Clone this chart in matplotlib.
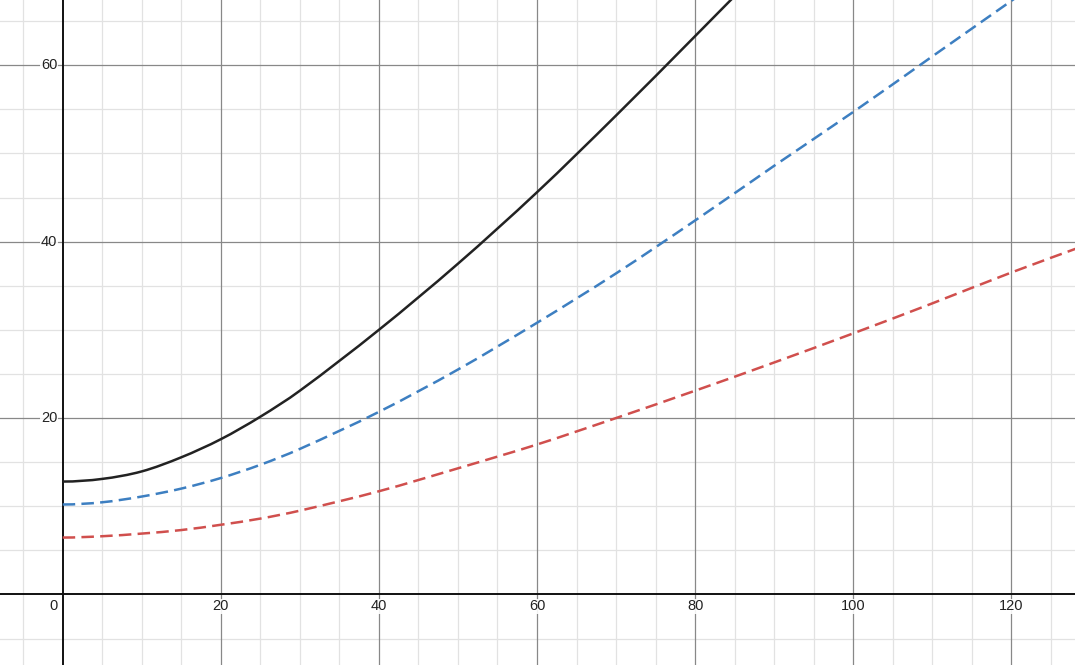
import matplotlib
matplotlib.use("Agg")
import matplotlib.pyplot as plt
from matplotlib.path import Path
from matplotlib.patches import PathPatch
import numpy as np

plt.rcParams['font.family'] = ['Liberation Sans', 'DejaVu Sans']

# Data
x_black = [0, 5, 10, 15, 20, 25, 30, 40, 50, 60, 70, 80, 90]
y_black = [12.8, 13.1, 13.95, 15.55, 17.6, 20.15, 23.1, 30.0, 37.5, 45.6, 54.3, 63.3, 72.4]

x_blue = [0, 5, 10, 15, 20, 25, 30, 40, 50, 60, 70, 80, 90, 100, 110, 120, 130]
y_blue = [10.2, 10.45, 11.1, 12.0, 13.2, 14.7, 16.5, 20.7, 25.5, 30.8, 36.4, 42.4, 48.6, 54.7, 61.0, 67.3, 73.6]

x_red = [0, 5, 10, 15, 20, 25, 30, 40, 50, 60, 70, 80, 90, 100, 110, 120, 130]
y_red = [6.45, 6.6, 6.9, 7.3, 7.9, 8.6, 9.5, 11.7, 14.3, 17.0, 20.0, 23.1, 26.3, 29.6, 33.0, 36.5, 39.8]

x_ticks = [20, 40, 60, 80, 100, 120]
y_ticks = [20, 40, 60]

xmin, xmax = -7.93, 128.06
ymin, ymax = -8.0, 67.4


def smooth_path(xs, ys):
    """Cubic Hermite (Bezier) curve through the given points."""
    x = np.asarray(xs, float)
    y = np.asarray(ys, float)
    n = len(x)
    m = np.zeros(n)
    for i in range(n):
        if i == 0:
            m[i] = 0.0  # flat at the vertex
        elif i == n - 1:
            m[i] = (y[i] - y[i - 1]) / (x[i] - x[i - 1])
        else:
            m[i] = (y[i + 1] - y[i - 1]) / (x[i + 1] - x[i - 1])
    verts = [(x[0], y[0])]
    codes = [Path.MOVETO]
    for i in range(n - 1):
        h = x[i + 1] - x[i]
        verts += [(x[i] + h / 3, y[i] + m[i] * h / 3),
                  (x[i + 1] - h / 3, y[i + 1] - m[i + 1] * h / 3),
                  (x[i + 1], y[i + 1])]
        codes += [Path.CURVE4] * 3
    return Path(verts, codes)


fig = plt.figure(figsize=(10.75, 6.65), dpi=100)
ax = fig.add_axes([0, 0, 1, 1])
ax.set_xlim(xmin, xmax)
ax.set_ylim(ymin, ymax)
ax.axis('off')

# minor grid
for v in np.arange(-5, 130, 5):
    if v % 20 != 0:
        ax.axvline(v, color='#e2e2e2', lw=0.9, zorder=0)
for v in np.arange(-5, 70, 5):
    if v % 20 != 0:
        ax.axhline(v, color='#e2e2e2', lw=0.9, zorder=0)
# major grid
for v in x_ticks:
    ax.axvline(v, color='#888888', lw=0.9, zorder=1)
for v in y_ticks:
    ax.axhline(v, color='#888888', lw=0.9, zorder=1)
# axes
ax.axvline(0, color='#111111', lw=1.4, zorder=2)
ax.axhline(0, color='#111111', lw=1.4, zorder=2)

# curves
ax.add_patch(PathPatch(smooth_path(x_black, y_black), fill=False,
                       edgecolor='#222222', lw=1.8, zorder=5))
ax.add_patch(PathPatch(smooth_path(x_blue, y_blue), fill=False,
                       edgecolor='#3d7fc1', lw=1.8, linestyle=(0, (5, 2.5)),
                       zorder=4))
ax.add_patch(PathPatch(smooth_path(x_red, y_red), fill=False,
                       edgecolor='#d04f4d', lw=1.8, linestyle=(0, (5, 2.5)),
                       zorder=4))

# tick labels
bbox = dict(facecolor='white', edgecolor='none', pad=0.5, alpha=0.9)
for v in x_ticks:
    ax.text(v, -1.35, str(v), ha='center', va='center', fontsize=10.5,
            color='#222222', zorder=6, bbox=bbox)
for v in y_ticks:
    ax.text(-0.7, v, str(v), ha='right', va='center', fontsize=10.5,
            color='#222222', zorder=6, bbox=bbox)
ax.text(-0.7, -1.35, '0', ha='right', va='center', fontsize=10.5,
        color='#222222', zorder=6, bbox=bbox)

fig.savefig('out.png', dpi=100)
